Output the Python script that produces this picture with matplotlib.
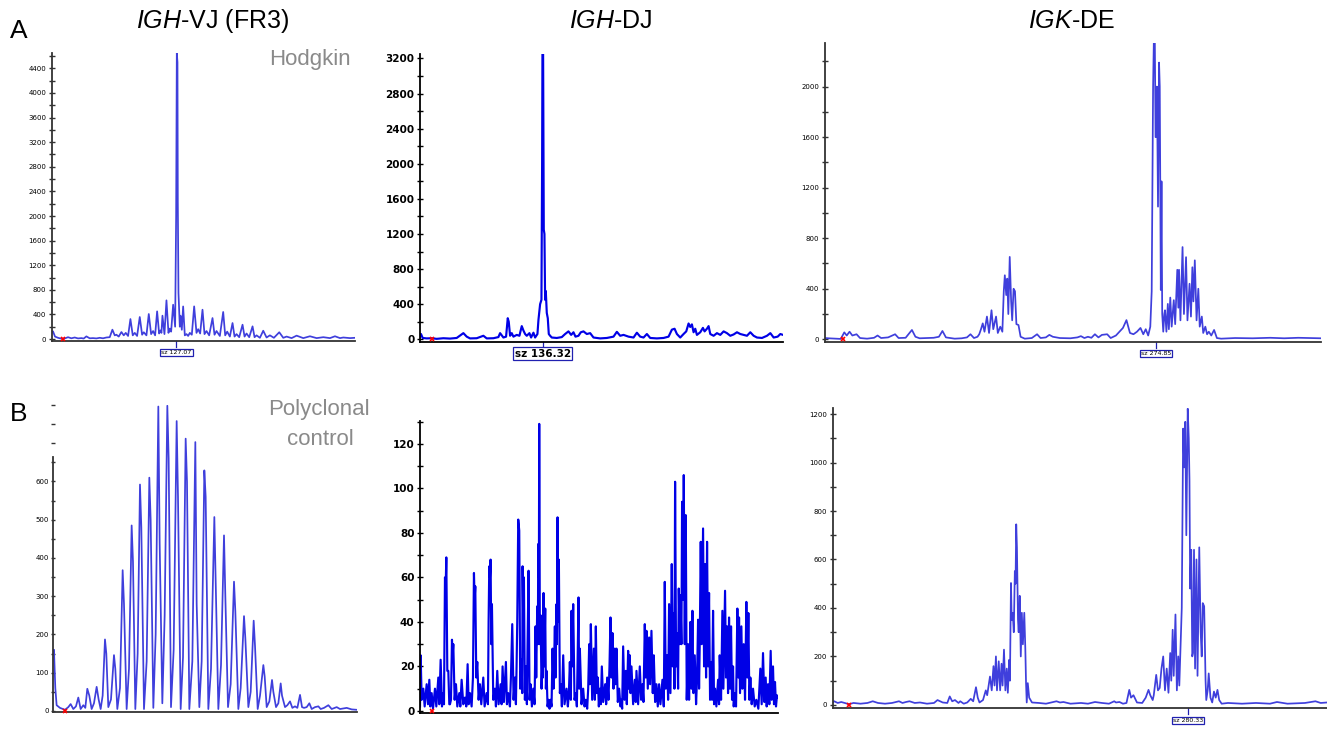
import matplotlib
matplotlib.use("Agg")
import matplotlib.pyplot as plt
import matplotlib.transforms as mtransforms

plt.rcParams["font.family"] = ["Liberation Sans", "DejaVu Sans"]
plt.rcParams["mathtext.fontset"] = "custom"
plt.rcParams["mathtext.it"] = "Liberation Sans:italic"
plt.rcParams["mathtext.rm"] = "Liberation Sans"

W, H = 1327, 729

# --- traces: (scan position, RFU) vertices
vj_hodgkin = [
    (7, 120), (10, 125), (16, 40), (25, 20), (32, 10), (40, 5), (48, 15), (55, 30), (65, 12), (75, 25),
    (85, 10), (95, 15), (102, 8), (110, 43), (120, 12), (130, 15), (140, 10), (150, 20), (160, 12),
    (170, 25), (180, 30), (188, 152), (195, 60), (200, 70), (207, 40), (215, 114), (222, 60), (228, 100),
    (235, 50), (242, 325), (249, 60), (255, 100), (262, 50), (270, 358), (277, 70), (282, 110), (290, 60),
    (297, 407), (304, 80), (310, 130), (316, 60), (322, 450), (328, 90), (332, 140), (335, 100), (338, 380),
    (344, 80), (350, 629), (356, 100), (360, 170), (364, 120), (370, 558), (376, 200), (379, 2000),
    (381, 4650), (383, 4500), (384, 2250), (386, 750), (390, 200), (392, 380), (396, 150), (400, 530),
    (405, 60), (410, 80), (415, 50), (420, 100), (426, 70), (433, 531), (440, 100), (445, 160), (451, 90),
    (458, 477), (464, 80), (470, 130), (478, 60), (488, 341), (494, 70), (500, 130), (510, 50), (520, 440),
    (526, 60), (532, 120), (540, 40), (548, 260), (554, 40), (560, 80), (568, 30), (578, 233), (584, 40),
    (590, 90), (598, 30), (608, 206), (614, 30), (620, 60), (630, 20), (640, 135), (650, 25), (660, 60),
    (672, 20), (688, 110), (700, 20), (710, 40), (725, 15), (740, 55), (760, 15), (780, 45), (800, 15),
    (820, 30), (840, 15), (855, 45), (870, 15), (880, 25), (900, 15), (915, 20),
]

dj_hodgkin = [
    (150, 30), (153, 60), (158, 15), (170, 10), (185, 12), (200, 5), (220, 12), (240, 8), (260, 15),
    (280, 70), (290, 30), (300, 10), (320, 12), (340, 40), (350, 10), (370, 12), (385, 25), (390, 70),
    (400, 20), (408, 30), (413, 240), (416, 200), (420, 40), (425, 70), (430, 30), (440, 50), (448, 40),
    (455, 150), (460, 100), (465, 60), (470, 40), (478, 70), (483, 20), (490, 75), (495, 20), (502, 60),
    (505, 220), (510, 400), (514, 450), (516, 2000), (517, 3250), (519, 3250), (521, 1250), (523, 1200),
    (525, 450), (527, 550), (530, 300), (533, 240), (536, 60), (540, 40), (545, 20), (560, 15), (575, 25),
    (585, 60), (595, 90), (603, 50), (610, 80), (616, 30), (625, 40), (632, 80), (640, 90), (650, 60),
    (660, 70), (670, 20), (690, 10), (710, 15), (730, 30), (740, 85), (750, 40), (760, 50), (775, 30),
    (790, 20), (800, 75), (810, 30), (820, 20), (830, 60), (840, 15), (860, 10), (880, 15), (895, 30),
    (905, 110), (913, 120), (920, 60), (930, 20), (940, 60), (948, 90), (955, 180), (960, 140), (965, 170),
    (970, 80), (975, 120), (980, 50), (990, 80), (998, 130), (1003, 90), (1010, 120), (1015, 150),
    (1020, 60), (1030, 40), (1040, 70), (1050, 50), (1060, 90), (1070, 70), (1080, 40), (1090, 55),
    (1100, 80), (1110, 60), (1120, 50), (1130, 40), (1140, 80), (1150, 40), (1160, 20), (1175, 15),
    (1190, 40), (1200, 70), (1210, 20), (1222, 30), (1230, 60), (1238, 50),
]

de_hodgkin = [
    (130, 10), (140, 8), (160, 5), (175, 3), (185, 55), (192, 30), (200, 60), (208, 30), (220, 40),
    (230, 10), (250, 5), (270, 12), (280, 30), (290, 10), (310, 15), (330, 40), (340, 10), (360, 12),
    (378, 74), (388, 20), (400, 8), (420, 10), (440, 12), (455, 20), (465, 66), (475, 15), (500, 5),
    (520, 8), (535, 15), (545, 40), (555, 10), (565, 20), (570, 40), (575, 80), (580, 126), (585, 60),
    (592, 180), (598, 50), (605, 230), (610, 80), (618, 180), (623, 50), (630, 100), (636, 60), (640, 380),
    (643, 507), (647, 350), (650, 480), (653, 200), (657, 652), (661, 300), (664, 150), (668, 400),
    (672, 380), (676, 120), (682, 113), (688, 20), (700, 5), (720, 10), (735, 40), (745, 10), (760, 15),
    (770, 35), (780, 20), (800, 10), (830, 8), (850, 15), (860, 25), (870, 10), (880, 20), (890, 12),
    (900, 40), (910, 15), (920, 35), (935, 40), (945, 10), (960, 30), (970, 60), (980, 90), (990, 152),
    (995, 100), (1000, 50), (1010, 40), (1020, 60), (1030, 90), (1038, 40), (1045, 80), (1052, 30),
    (1058, 100), (1062, 380), (1066, 2000), (1068, 2345), (1071, 2345), (1073, 1600), (1075, 1600),
    (1077, 2000), (1080, 1050), (1083, 2190), (1085, 2000), (1088, 390), (1090, 1250), (1092, 200),
    (1095, 60), (1098, 200), (1100, 230), (1104, 60), (1108, 280), (1111, 80), (1115, 330), (1119, 100),
    (1125, 310), (1129, 120), (1135, 550), (1138, 250), (1140, 550), (1144, 150), (1150, 730), (1154, 200),
    (1160, 650), (1164, 150), (1170, 440), (1174, 180), (1178, 570), (1181, 300), (1185, 625), (1190, 150),
    (1195, 400), (1199, 100), (1205, 180), (1209, 50), (1215, 100), (1220, 40), (1225, 60), (1232, 30),
    (1240, 74), (1248, 10), (1260, 5), (1300, 10), (1350, 8), (1400, 12), (1440, 8), (1480, 12),
    (1520, 10), (1545, 8),
]

vj_poly = [
    (160, 150), (162, 160), (166, 60), (170, 15), (180, 8), (195, 3), (205, 10), (212, 18), (220, 5),
    (228, 12), (235, 35), (242, 5), (250, 15), (256, 8), (262, 58), (268, 40), (275, 5), (282, 20),
    (290, 63), (296, 30), (302, 5), (308, 40), (315, 187), (319, 150), (325, 10), (333, 30), (342, 146),
    (346, 110), (352, 5), (360, 60), (368, 368), (372, 280), (380, 5), (387, 110), (395, 485), (399, 390),
    (406, 5), (413, 150), (420, 592), (424, 480), (432, 5), (440, 130), (448, 610), (452, 500), (460, 8),
    (467, 200), (475, 796), (479, 440), (487, 20), (494, 250), (502, 798), (506, 660), (513, 10),
    (521, 160), (530, 758), (534, 560), (542, 5), (549, 140), (557, 712), (561, 600), (568, 5), (577, 130),
    (586, 703), (590, 280), (598, 10), (605, 130), (613, 629), (617, 560), (625, 5), (633, 110), (643, 507),
    (647, 340), (655, 5), (663, 120), (672, 459), (676, 300), (684, 10), (692, 70), (702, 338), (706, 260),
    (715, 5), (722, 60), (732, 248), (736, 190), (745, 10), (752, 50), (761, 236), (765, 170), (773, 5),
    (780, 40), (790, 120), (794, 90), (800, 10), (808, 25), (816, 81), (820, 50), (828, 10), (835, 20),
    (842, 72), (846, 40), (855, 10), (862, 15), (870, 25), (877, 8), (885, 12), (892, 8), (900, 42),
    (906, 10), (912, 8), (920, 10), (928, 20), (935, 5), (945, 10), (955, 12), (962, 5), (972, 8),
    (985, 15), (995, 5), (1010, 10), (1020, 5), (1040, 8), (1055, 4), (1070, 3),
]

dj_poly = [
    (150, 2), (152, 25), (155, 5), (160, 10), (164, 2), (170, 12), (174, 3), (178, 14), (181, 2), (185, 8),
    (189, 1), (195, 10), (199, 2), (205, 15), (208, 3), (212, 23), (216, 2), (220, 8), (222, 3), (225, 60),
    (227, 55), (229, 69), (232, 18), (235, 18), (238, 3), (240, 3), (243, 5), (246, 32), (248, 25),
    (250, 30), (254, 5), (258, 12), (262, 2), (268, 8), (271, 2), (275, 14), (280, 3), (285, 6), (289, 2),
    (293, 21), (296, 3), (300, 8), (305, 2), (309, 15), (312, 62), (314, 50), (316, 56), (319, 15),
    (322, 22), (326, 5), (330, 12), (334, 3), (340, 15), (344, 2), (350, 8), (354, 3), (356, 40), (358, 65),
    (360, 60), (362, 68), (364, 30), (366, 48), (370, 5), (375, 10), (378, 2), (382, 18), (386, 3),
    (392, 12), (395, 3), (398, 20), (402, 4), (408, 22), (411, 3), (415, 8), (420, 2), (423, 15), (427, 39),
    (431, 5), (435, 15), (438, 3), (440, 20), (442, 40), (444, 70), (445, 86), (448, 81), (451, 10),
    (455, 23), (457, 8), (458, 65), (460, 40), (462, 60), (465, 5), (468, 20), (471, 3), (473, 30),
    (476, 63), (479, 5), (482, 12), (486, 2), (490, 10), (494, 3), (497, 38), (499, 15), (502, 47),
    (504, 30), (505, 75), (507, 60), (508, 129), (510, 30), (512, 43), (515, 10), (518, 25), (519, 15),
    (521, 53), (523, 20), (526, 46), (528, 10), (530, 18), (533, 2), (536, 5), (539, 1), (542, 5), (545, 2),
    (548, 28), (551, 10), (555, 38), (557, 15), (560, 48), (561, 30), (563, 87), (565, 40), (567, 68),
    (570, 8), (573, 12), (576, 2), (580, 25), (584, 3), (590, 10), (594, 2), (597, 8), (600, 22), (603, 5),
    (605, 45), (607, 20), (610, 48), (614, 5), (618, 8), (621, 2), (623, 20), (626, 51), (628, 10),
    (630, 28), (635, 3), (640, 10), (644, 2), (648, 5), (652, 1), (655, 10), (658, 30), (660, 12),
    (663, 39), (667, 5), (672, 28), (675, 5), (678, 38), (681, 8), (684, 15), (687, 2), (690, 10), (693, 3),
    (696, 20), (700, 4), (706, 12), (709, 3), (712, 15), (716, 5), (719, 20), (722, 42), (725, 15),
    (728, 35), (731, 10), (735, 28), (737, 12), (740, 28), (744, 4), (748, 10), (752, 2), (755, 5),
    (757, 1), (760, 29), (764, 5), (768, 18), (771, 3), (775, 27), (777, 10), (780, 25), (782, 8),
    (785, 20), (790, 3), (795, 14), (798, 4), (800, 18), (805, 3), (810, 20), (814, 5), (818, 12),
    (821, 4), (825, 39), (828, 15), (830, 36), (834, 10), (838, 33), (841, 12), (845, 36), (849, 8),
    (852, 25), (856, 4), (860, 12), (864, 2), (868, 12), (872, 3), (878, 14), (882, 2), (885, 58),
    (888, 10), (892, 25), (895, 5), (898, 48), (902, 8), (906, 66), (909, 20), (912, 44), (914, 10),
    (916, 103), (919, 20), (922, 35), (925, 10), (927, 55), (930, 30), (932, 52), (935, 30), (937, 94),
    (940, 50), (942, 106), (945, 30), (948, 88), (951, 5), (955, 30), (958, 5), (962, 40), (965, 10),
    (968, 45), (971, 8), (975, 25), (979, 3), (982, 15), (985, 41), (988, 10), (990, 30), (993, 76),
    (996, 30), (1000, 82), (1003, 20), (1006, 66), (1009, 15), (1012, 76), (1015, 20), (1018, 53),
    (1021, 5), (1025, 22), (1027, 5), (1030, 45), (1033, 3), (1036, 10), (1040, 2), (1045, 14), (1048, 3),
    (1050, 25), (1054, 5), (1058, 45), (1061, 10), (1066, 54), (1069, 15), (1072, 38), (1075, 8),
    (1078, 42), (1081, 10), (1084, 38), (1087, 5), (1090, 20), (1092, 2), (1095, 8), (1099, 2), (1103, 46),
    (1106, 15), (1108, 42), (1111, 8), (1115, 38), (1118, 10), (1122, 30), (1126, 5), (1130, 49),
    (1133, 15), (1136, 44), (1139, 5), (1142, 15), (1146, 3), (1150, 10), (1155, 2), (1160, 5), (1166, 1),
    (1172, 19), (1176, 3), (1180, 26), (1184, 4), (1188, 15), (1191, 2), (1195, 12), (1199, 3), (1203, 27),
    (1206, 5), (1210, 20), (1213, 3), (1216, 13), (1219, 2), (1222, 7), (1225, 6),
]

de_poly = [
    (150, 10), (155, 15), (165, 8), (175, 12), (185, 8), (197, 3), (210, 8), (230, 5), (250, 8), (265, 15),
    (280, 8), (300, 5), (320, 8), (340, 15), (350, 8), (360, 12), (370, 15), (385, 8), (400, 10), (420, 5),
    (440, 8), (450, 20), (465, 10), (478, 8), (485, 35), (492, 15), (500, 20), (510, 8), (515, 15),
    (525, 5), (535, 10), (545, 25), (552, 15), (560, 73), (565, 30), (570, 10), (580, 20), (588, 60),
    (592, 40), (600, 117), (605, 60), (610, 160), (613, 80), (617, 200), (620, 60), (625, 180), (629, 60),
    (633, 170), (636, 80), (640, 228), (644, 60), (648, 150), (651, 50), (655, 186), (657, 100), (660, 503),
    (662, 350), (665, 380), (668, 300), (671, 552), (673, 500), (675, 745), (677, 650), (680, 352),
    (682, 300), (685, 450), (688, 200), (691, 380), (694, 250), (698, 380), (701, 230), (703, 90), (705, 10),
    (708, 90), (712, 30), (720, 10), (740, 8), (760, 5), (790, 15), (800, 10), (810, 12), (830, 5),
    (860, 8), (880, 5), (900, 12), (920, 8), (940, 5), (955, 15), (960, 10), (970, 12), (980, 5), (990, 8),
    (998, 62), (1003, 30), (1010, 40), (1020, 10), (1035, 8), (1045, 30), (1053, 62), (1058, 40),
    (1065, 20), (1068, 40), (1075, 124), (1080, 60), (1085, 70), (1090, 150), (1095, 200), (1100, 60),
    (1105, 150), (1110, 50), (1115, 214), (1118, 100), (1122, 310), (1125, 120), (1130, 373), (1134, 60),
    (1138, 200), (1141, 80), (1145, 270), (1148, 400), (1152, 1140), (1155, 980), (1158, 1168), (1161, 700),
    (1165, 1222), (1168, 1100), (1170, 930), (1172, 480), (1175, 640), (1178, 200), (1180, 214), (1183, 640),
    (1186, 150), (1190, 600), (1193, 120), (1198, 650), (1202, 300), (1205, 200), (1208, 420), (1212, 407),
    (1216, 100), (1218, 20), (1222, 60), (1225, 130), (1230, 30), (1235, 10), (1240, 55), (1245, 30),
    (1250, 62), (1255, 20), (1262, 5), (1280, 8), (1320, 5), (1360, 8), (1400, 5), (1420, 12), (1450, 5),
    (1500, 8), (1530, 15), (1545, 8), (1563, 10),
]

titles = ["$\\it{IGH}$-VJ (FR3)", "$\\it{IGH}$-DJ", "$\\it{IGK}$-DE"]
size_labels = {"vj": "sz 127.07", "dj": "sz 136.32", "de_a": "sz 274.85", "de_b": "sz 280.33"}

fig = plt.figure(figsize=(W / 100, H / 100), dpi=100)

LIGHT = "#3f3fdc"
DARK = "#0000e6"


def panel(box, trace, xlim, ylim, major, minor, labels, style, spine_top=None):
    l, t, r, b = box
    ax = fig.add_axes([l / W, 1 - b / H, (r - l) / W, (b - t) / H])
    xs = [p[0] for p in trace]
    ys = [p[1] for p in trace]
    if style == "dark":
        ax.plot(xs, ys, color=DARK, lw=1.55)
        spc, tfs, tw = "black", 7.5, "bold"
    else:
        ax.plot(xs, ys, color=LIGHT, lw=1.25)
        spc, tfs, tw = "#333333", 5, "normal"
    ax.set_xlim(*xlim)
    ax.set_ylim(*ylim)
    for s in ["top", "right"]:
        ax.spines[s].set_visible(False)
    for s in ["left", "bottom"]:
        ax.spines[s].set_color(spc)
        ax.spines[s].set_linewidth(1.3)
    if spine_top is not None:
        ax.spines["left"].set_bounds(ylim[0], spine_top)
    ax.set_xticks([])
    ax.set_yticks(major)
    ax.set_yticklabels(labels, fontsize=tfs, fontweight=tw, family="DejaVu Sans")
    ax.set_yticks(minor, minor=True)
    ax.tick_params(axis="y", which="both", direction="inout", color=spc, width=1.0, pad=1.5)
    ax.tick_params(axis="y", which="major", length=5)
    ax.tick_params(axis="y", which="minor", length=4)
    ax.patch.set_alpha(0)
    return ax


def red_x(ax, x):
    ax.plot([x], [0], marker="x", color="red", ms=3, mew=1.2, clip_on=False, zorder=5)


def size_tag(ax, x, text, fs, weight="normal"):
    tr = mtransforms.blended_transform_factory(ax.transData, ax.transAxes)
    ax.plot([x, x], [0, -0.02], color="#2020b0", lw=0.9, transform=tr, clip_on=False)
    ax.text(x, -0.04, text, transform=tr, ha="center", va="center", fontsize=fs,
            fontweight=weight, family="DejaVu Sans",
            bbox=dict(boxstyle="square,pad=0.15", fc="white", ec="#2020b0", lw=0.9))


# A: Hodgkin
a1 = panel((52, 53, 355, 341), vj_hodgkin, (7, 915), (-32, 4650),
           list(range(0, 4401, 400)), list(range(0, 4601, 200)),
           [str(v) for v in range(0, 4401, 400)], "light")
red_x(a1, 40)
size_tag(a1, 380, size_labels["vj"], 4.5)

a2 = panel((420, 54, 783, 342), dj_hodgkin, (150, 1238), (-31, 3251),
           list(range(0, 3201, 400)), list(range(0, 3201, 200)),
           [str(v) for v in range(0, 3201, 400)], "dark")
red_x(a2, 185)
size_tag(a2, 518, size_labels["dj"], 7.5, "bold")

a3 = panel((825, 43, 1321, 341.7), de_hodgkin, (130, 1545), (-19, 2345),
           list(range(0, 2001, 400)), list(range(0, 2201, 200)),
           [str(v) for v in range(0, 2001, 400)], "light")
red_x(a3, 180)
size_tag(a3, 1075, size_labels["de_a"], 4.5)

# B: polyclonal control
b1 = panel((53.3, 405, 356.7, 711.7), vj_poly, (160, 1070), (-2, 800),
           list(range(0, 801, 100)), list(range(0, 801, 50)),
           [str(v) for v in range(0, 601, 100)] + ["", ""], "light", spine_top=665)
b1.tick_params(axis="y", which="both", length=3)
red_x(b1, 195)

b2 = panel((420, 421, 778, 712.7), dj_poly, (150, 1225), (-0.8, 130.3),
           list(range(0, 121, 20)), list(range(0, 131, 10)),
           [str(v) for v in range(0, 121, 20)], "dark")
red_x(b2, 185)

b3 = panel((832.5, 408, 1327, 708.3), de_poly, (150, 1563), (-14, 1225),
           list(range(0, 1201, 200)), list(range(0, 1201, 100)),
           [str(v) for v in range(0, 1201, 200)], "light")
red_x(b3, 197)
size_tag(b3, 1165, size_labels["de_b"], 4.5)

# --- figure text
def ftext(x, y, s, **kw):
    fig.text(x / W, 1 - y / H, s, **kw)

ftext(19, 31, "A", fontsize=19, ha="center", va="center")
ftext(19, 414, "B", fontsize=19, ha="center", va="center")
for cx, t in zip([213, 611, 1072], titles):
    ftext(cx, 21, t, fontsize=18, ha="center", va="center")
ftext(310, 60, "Hodgkin", fontsize=16, color="#8a8a8a", ha="center", va="center")
ftext(319, 410, "Polyclonal", fontsize=16, color="#8a8a8a", ha="center", va="center")
ftext(320, 440, "control", fontsize=16, color="#8a8a8a", ha="center", va="center")

fig.savefig("out.png", dpi=100)
